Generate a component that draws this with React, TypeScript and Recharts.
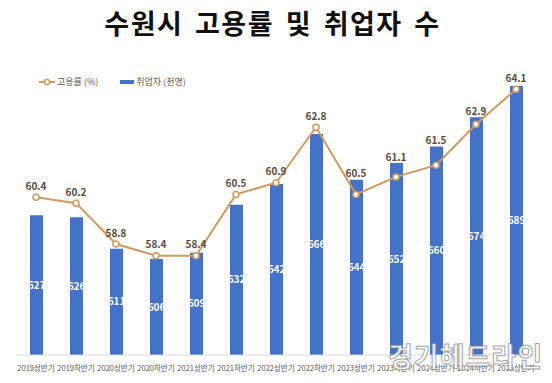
import { ComposedChart, Bar, Line, XAxis, YAxis, LabelList } from "recharts"

const periods = [
    "2019상반기", "2019하반기", "2020상반기", "2020하반기", "2021상반기", "2021하반기",
    "2022상반기", "2022하반기", "2023상반기", "2023하반기", "2024상반기", "2024하반기", "2025상반기",
]
const employed = [627, 626, 611, 606, 609, 632, 642, 666, 644, 652, 660, 674, 689]
const employmentRate = [60.4, 60.2, 58.8, 58.4, 58.4, 60.5, 60.9, 62.8, 60.5, 61.1, 61.5, 62.9, 64.1]

const barDomain = [560, 700]
const rateDomain = [55, 65]

const data = periods.map((p, i) => ({ period: p, employed: employed[i], rate: employmentRate[i] }))

const FONT = "'Noto Sans CJK KR', 'Noto Sans', sans-serif"
const BAR = "#4472C4"
const LINE = "#CF9A5C"

const W = 552
const H = 383
const MARGIN = { top: 63, right: 16, bottom: 8, left: 16 }
const XAXIS_H = 20
const PLOT_H = H - MARGIN.top - MARGIN.bottom - XAXIS_H

// rate label goes above whichever is higher: the point or the bar under it
function RateLabel(props: any) {
    const { x, y, value, index } = props
    const b = employed[index]
    const fb = (b - barDomain[0]) / (barDomain[1] - barDomain[0])
    const fr = (value - rateDomain[0]) / (rateDomain[1] - rateDomain[0])
    const barTop = y - (fb - fr) * PLOT_H
    const ly = Math.min(y - 12, barTop - 7)
    return (
        <text x={x} y={ly} textAnchor="middle" dominantBaseline="central" fill="#5A4A3A" fontSize={10} fontWeight={700} fontFamily={FONT}>
            {value}
        </text>
    )
}

export default function App() {
    return (
        <div style={{ position: "absolute", left: 0, top: 0, width: W, height: H, background: "#fff", fontFamily: FONT }}>
            <div style={{ position: "absolute", left: 0, top: 3, width: 545, textAlign: "center", fontSize: 27, fontWeight: 700, color: "#111", letterSpacing: 1.5, wordSpacing: 4 }}>
                수원시 고용률 및 취업자 수
            </div>

            <div style={{ position: "absolute", left: 39, top: 75, fontSize: 9, color: "#595959", display: "flex", alignItems: "center" }}>
                <svg width={16} height={8}>
                    <line x1={0} y1={4} x2={16} y2={4} stroke={LINE} strokeWidth={2} />
                    <circle cx={8} cy={4} r={2.6} fill="#fff" stroke={LINE} strokeWidth={1.5} />
                </svg>
                <span style={{ marginLeft: 2 }}>고용률 (%)</span>
                <span style={{ display: "inline-block", width: 14, height: 4, background: BAR, marginLeft: 22 }} />
                <span style={{ marginLeft: 2 }}>취업자 (천명)</span>
            </div>

            <ComposedChart width={W} height={H} data={data} margin={MARGIN}>
                <XAxis
                    dataKey="period"
                    height={XAXIS_H}
                    interval={0}
                    tickLine={false}
                    axisLine={{ stroke: "#D9D9D9" }}
                    tick={{ fontSize: 7.5, fill: "#595959", fontFamily: FONT, dy: 3 }}
                />
                <YAxis yAxisId="bar" hide domain={barDomain} />
                <YAxis yAxisId="rate" hide orientation="right" domain={rateDomain} />
                <Bar yAxisId="bar" dataKey="employed" fill={BAR} barSize={13} isAnimationActive={false}>
                    <LabelList dataKey="employed" position="center" fill="#fff" fontSize={10} fontWeight={700} />
                </Bar>
                <Line
                    yAxisId="rate"
                    dataKey="rate"
                    stroke={LINE}
                    strokeWidth={2}
                    dot={{ r: 3, fill: "#fff", stroke: LINE, strokeWidth: 1.5 }}
                    isAnimationActive={false}
                >
                    <LabelList dataKey="rate" content={(p: any) => <RateLabel {...p} />} />
                </Line>
            </ComposedChart>

            <div style={{ position: "absolute", left: 388, top: 336, fontSize: 27, fontWeight: 700, color: "rgba(255,255,255,0.85)", WebkitTextStroke: "1px rgba(120,120,120,0.7)", letterSpacing: 1 }}>
                경기헤드라인
            </div>
        </div>
    )
}
